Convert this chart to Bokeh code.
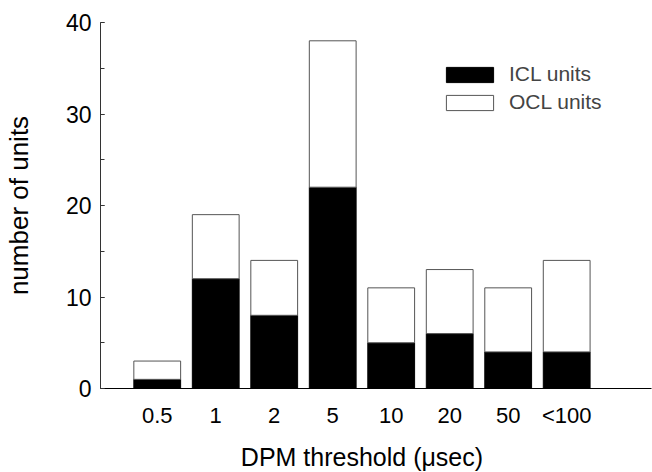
import math
from bokeh.plotting import figure
from bokeh.models import (ColumnDataSource, Range1d, SingleIntervalTicker, FixedTicker,
                          Legend, LegendItem, Label)
from bokeh.embed import file_html
from bokeh.resources import INLINE

# ---- data ----
categories = ["0.5", "1", "2", "5", "10", "20", "50", "<100"]
icl_units = [1, 12, 8, 22, 5, 6, 4, 4]
ocl_units = [2, 7, 6, 16, 6, 7, 7, 10]
series_names = ["ICL units", "OCL units"]
y_title = "number of units"
x_title = "DPM threshold (\u03bcsec)"

FONT = "Liberation Sans"

xs = list(range(1, len(categories) + 1))
src = ColumnDataSource(dict(x=xs, icl=icl_units, ocl=ocl_units))

p = figure(width=652, height=472, output_backend="svg", toolbar_location=None,
           x_range=Range1d(0.03, 9.45), y_range=Range1d(0, 40),
           min_border_left=99, min_border_right=1, min_border_top=22, min_border_bottom=84)
p.xgrid.visible = False
p.ygrid.visible = False
p.outline_line_color = None
p.background_fill_color = "white"
p.border_fill_color = "white"

rs = p.vbar_stack(["icl", "ocl"], x="x", width=0.8, source=src,
                  fill_color=["black", "white"], line_color=["black", "#555555"], line_width=1)

xa = p.xaxis[0]
xa.ticker = FixedTicker(ticks=xs)
xa.major_label_overrides = {x: c for x, c in zip(xs, categories)}
xa.major_tick_line_color = None
xa.minor_tick_line_color = None
xa.major_tick_in = 0
xa.major_tick_out = 0
xa.major_label_standoff = 14
xa.major_label_text_font = FONT
xa.major_label_text_font_size = "22px"
xa.major_label_text_color = "black"
xa.axis_line_color = "black"

ya = p.yaxis[0]
ya.ticker = SingleIntervalTicker(interval=10, num_minor_ticks=2)
ya.major_tick_in = 4
ya.major_tick_out = 0
ya.minor_tick_in = 4
ya.minor_tick_out = 0
ya.major_label_standoff = 9
ya.major_label_text_font = FONT
ya.major_label_text_font_size = "23px"
ya.major_label_text_color = "black"
ya.axis_line_color = "#333333"
ya.major_tick_line_color = "#333333"
ya.minor_tick_line_color = "#333333"
ya.axis_label = y_title
ya.axis_label_standoff = 29
ya.axis_label_text_font = FONT
ya.axis_label_text_font_size = "26px"
ya.axis_label_text_font_style = "normal"
ya.axis_label_text_color = "black"

p.add_layout(Label(x=4.5, y=-7.5, text=x_title, text_align="center",
                   text_baseline="alphabetic", text_font=FONT, text_font_size="25px",
                   text_color="black"), "below")

legend = Legend(items=[LegendItem(label=series_names[0], renderers=[rs[0]]),
                       LegendItem(label=series_names[1], renderers=[rs[1]])],
                location=(340, 274), glyph_width=59, glyph_height=19, label_standoff=10,
                spacing=4, padding=0, margin=0, border_line_color=None,
                background_fill_alpha=0, label_text_font=FONT, label_text_font_size="21px")
p.add_layout(legend)

open("out.html", "w").write(file_html(p, INLINE))
